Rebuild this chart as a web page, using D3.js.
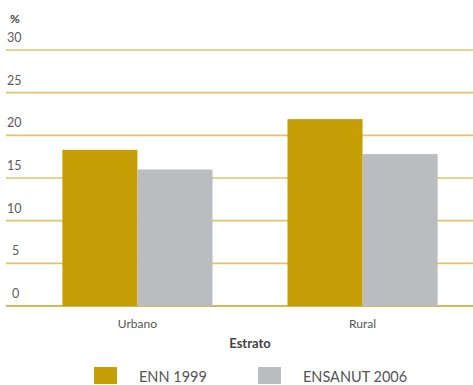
<!DOCTYPE html>
<html><head><meta charset="utf-8">
<script src="https://cdn.jsdelivr.net/npm/d3@7"></script>
<style>
html,body{margin:0;padding:0;background:#fff;}
text{font-family:Lato,"Open Sans",sans-serif;}
</style></head>
<body>
<svg id="c" width="473" height="385"></svg>
<script>
const categories = ["Urbano", "Rural"];
const seriesNames = ["ENN 1999", "ENSANUT 2006"];
const enn1999 = [18.3, 21.9];
const ensanut2006 = [16.0, 17.8];
const yTicks = [0, 5, 10, 15, 20, 25, 30];
const colors = ["#c59f05", "#bbbcbf"];

const svg = d3.select("#c");
const y = d3.scaleLinear().domain([0, 30]).range([306, 50]);
const x0 = d3.scaleBand().domain(categories).range([25, 475]).paddingInner(0.333).paddingOuter(0.166);
const x1 = d3.scaleBand().domain(seriesNames).range([0, x0.bandwidth()]);

// gridlines
svg.append("g").selectAll("line").data(yTicks).join("line")
  .attr("x1", 6).attr("x2", 473)
  .attr("y1", d => y(d)).attr("y2", d => y(d))
  .attr("stroke", d => d === 0 ? "#c8a21a" : "#dcc56a")
  .attr("stroke-width", d => d === 0 ? 1.5 : 1.6);

// tick labels
svg.append("g").selectAll("text").data(yTicks).join("text")
  .attr("x", d => d < 10 ? 12 : 7).attr("y", d => y(d) - 8)
  .attr("font-size", 12.5).attr("fill", "#5a5a5a")
  .text(d => d);

svg.append("text").attr("x", 10).attr("y", 23).attr("font-size", 12)
  .attr("font-weight", "bold").attr("fill", "#444").text("%");

const data = categories.map((c, i) => ({cat: c, vals: [enn1999[i], ensanut2006[i]]}));
const g = svg.append("g").selectAll("g").data(data).join("g")
  .attr("transform", d => `translate(${x0(d.cat)},0)`);
g.selectAll("rect").data(d => d.vals.map((v, j) => ({name: seriesNames[j], v, j}))).join("rect")
  .attr("x", d => x1(d.name)).attr("width", x1.bandwidth())
  .attr("y", d => y(d.v)).attr("height", d => y(0) - y(d.v))
  .attr("fill", d => colors[d.j]);

// category labels
svg.append("g").selectAll("text").data(categories).join("text")
  .attr("x", d => x0(d) + x0.bandwidth() / 2).attr("y", 328)
  .attr("text-anchor", "middle").attr("font-size", 12).attr("fill", "#555")
  .text(d => d);

svg.append("text").attr("x", 250).attr("y", 348).attr("text-anchor", "middle")
  .attr("font-size", 13).attr("font-weight", "bold").attr("fill", "#444").text("Estrato");

// legend
const legX = [94, 258];
const lg = svg.append("g").selectAll("g").data(seriesNames).join("g")
  .attr("transform", (d, i) => `translate(${legX[i]},367)`);
lg.append("rect").attr("width", 23).attr("height", 17).attr("fill", (d, i) => colors[i]);
lg.append("text").attr("x", 45).attr("y", 15).attr("font-size", 14.5).attr("fill", "#555").text(d => d);
</script>
</body></html>
